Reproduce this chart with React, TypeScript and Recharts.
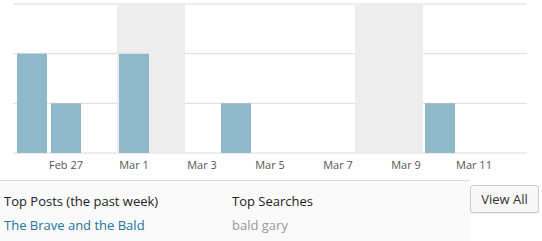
import { BarChart, Bar, XAxis, YAxis, CartesianGrid } from 'recharts'

const days = [
  'Feb 26', 'Feb 27', 'Feb 28', 'Mar 1', 'Mar 2', 'Mar 3', 'Mar 4', 'Mar 5',
  'Mar 6', 'Mar 7', 'Mar 8', 'Mar 9', 'Mar 10', 'Mar 11', 'Mar 12',
]
const views = [2, 1, 0, 2, 0, 0, 1, 0, 0, 0, 0, 0, 1, 0, 0]
const weekendDays = ['Mar 1', 'Mar 2', 'Mar 8', 'Mar 9']
const tickLabels = ['Feb 27', 'Mar 1', 'Mar 3', 'Mar 5', 'Mar 7', 'Mar 9', 'Mar 11']
const yTicks = [0, 1, 2, 3]

const font = '"Open Sans", "Noto Sans", sans-serif'

const data = days.map((day, i) => ({
  day,
  views: views[i],
  weekend: weekendDays.includes(day) ? 3 : 0,
}))

function StatsChart() {
  return (
    <BarChart
      width={542}
      height={178}
      data={data}
      barCategoryGap={0}
      margin={{ top: 4, right: 15, left: 13, bottom: 0 }}
    >
      {/* hidden axis so the weekend shading isn't grouped with the views bars */}
      <XAxis
        xAxisId="bg"
        dataKey="day"
        hide
        padding={{ left: 2, right: 2 }}
      />
      <XAxis
        dataKey="day"
        ticks={tickLabels}
        interval={0}
        axisLine={false}
        tickLine={false}
        height={25}
        padding={{ left: 2, right: 2 }}
        tick={{ fontSize: 11, fill: '#555', fontFamily: font }}
      />
      <YAxis hide domain={[0, 3]} ticks={yTicks} />
      <Bar xAxisId="bg" dataKey="weekend" fill="#ededed" isAnimationActive={false} />
      <CartesianGrid vertical={false} stroke="rgba(0,0,0,0.14)" />
      <Bar dataKey="views" fill="#8fb8cb" barSize={30} isAnimationActive={false} />
    </BarChart>
  )
}

export default function App() {
  return (
    <div
      style={{
        position: 'absolute',
        left: 0,
        top: 0,
        width: 542,
        height: 241,
        background: '#fff',
        fontFamily: font,
        overflow: 'hidden',
      }}
    >
      <StatsChart />
      <div
        style={{
          position: 'absolute',
          left: 0,
          top: 180,
          width: 470,
          height: 61,
          background: '#fafafa',
          borderTop: '1px solid #dfdfdf',
          fontSize: 13,
          lineHeight: '18px',
        }}
      >
        <div style={{ position: 'absolute', left: 4, top: 11, color: '#222' }}>
          Top Posts (the past week)
        </div>
        <div style={{ position: 'absolute', left: 4, top: 35, color: '#21759b' }}>
          The Brave and the Bald
        </div>
        <div style={{ position: 'absolute', left: 232, top: 11, color: '#222' }}>
          Top Searches
        </div>
        <div style={{ position: 'absolute', left: 232, top: 35, color: '#999' }}>
          bald gary
        </div>
      </div>
      <div
        style={{
          position: 'absolute',
          left: 470,
          top: 185,
          width: 67,
          height: 26,
          border: '1px solid #ccc',
          borderRadius: 3,
          background: '#f7f7f7',
          boxShadow: 'inset 0 1px 0 #fff, 0 1px 0 rgba(0,0,0,0.08)',
          color: '#333',
          fontSize: 13,
          lineHeight: '26px',
          textAlign: 'center',
        }}
      >
        View All
      </div>
    </div>
  )
}
